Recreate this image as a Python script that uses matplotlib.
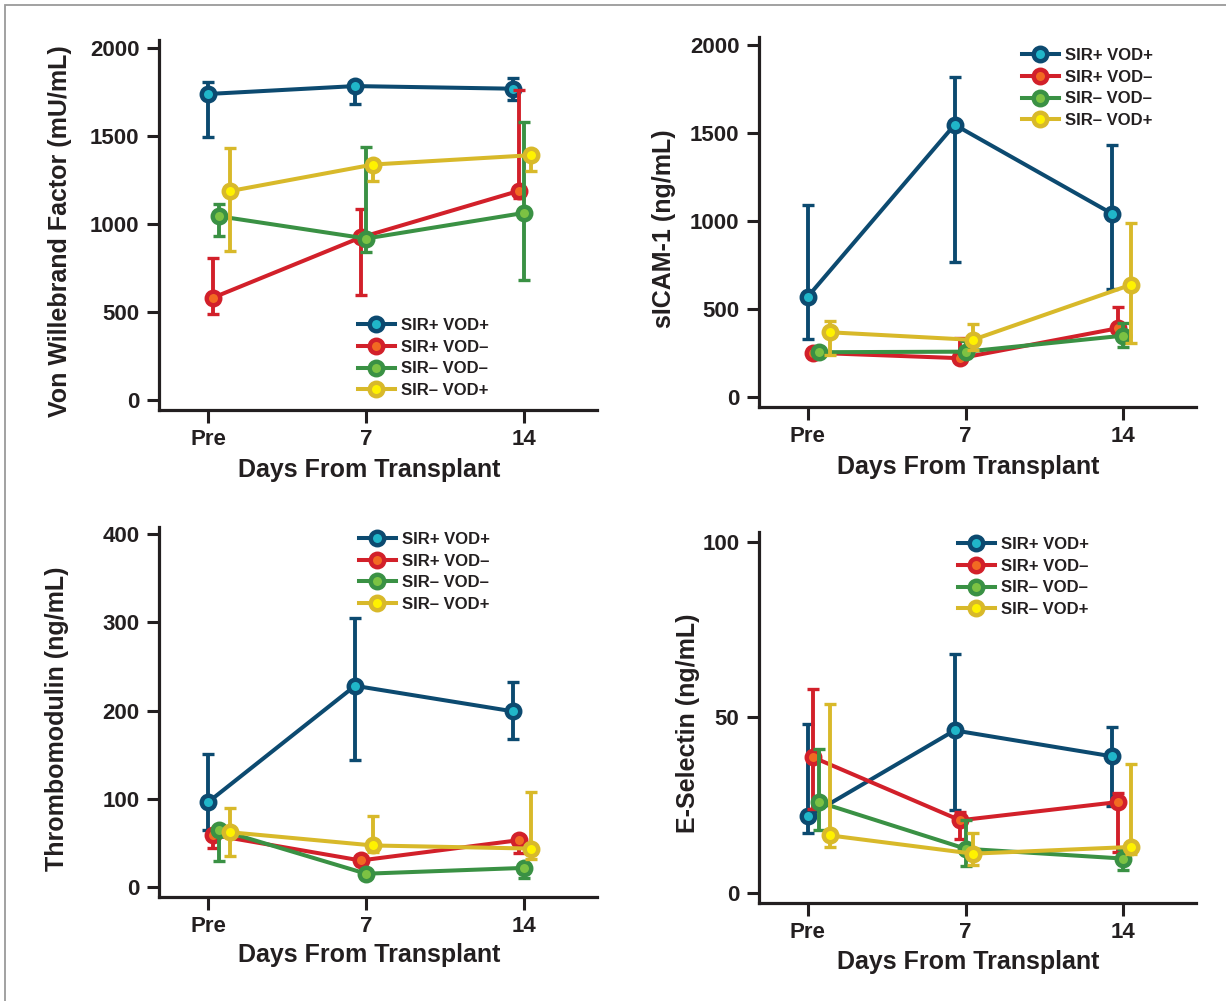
import numpy as np
import matplotlib
matplotlib.use('Agg')
import matplotlib.pyplot as plt
from matplotlib import font_manager
from matplotlib.patches import Rectangle

installed = {f.name for f in font_manager.fontManager.ttflist}
FONT = 'Liberation Sans' if 'Liberation Sans' in installed else 'DejaVu Sans'
plt.rcParams['font.family'] = [FONT, 'DejaVu Sans']

# Data: mean, lower and upper ends of error bars
days = ['Pre', '7', '14']
groups = ['SIR+ VOD+', 'SIR+ VOD\u2013', 'SIR\u2013 VOD\u2013', 'SIR\u2013 VOD+']

# Von Willebrand Factor (mU/mL)
vwf_mean = [[1740, 1785, 1770], [581, 924, 1189], [1045, 918, 1064], [1188, 1339, 1392]]
vwf_lo = [[1496, 1682, 1708], [487, 597, 1150], [933, 839, 682], [847, 1244, 1303]]
vwf_hi = [[1809, 1800, 1833], [808, 1085, 1761], [1114, 1440, 1581], [1434, 1360, 1410]]

# sICAM-1 (ng/mL)
icam_mean = [[572, 1547, 1041], [253, 222, 392], [256, 259, 350], [369, 326, 638]]
icam_lo = [[330, 767, 614], [240, 210, 370], [245, 240, 288], [240, 270, 307]]
icam_hi = [[1089, 1816, 1432], [265, 337, 515], [268, 322, 420], [435, 416, 992]]

# Thrombomodulin (ng/mL)
tm_mean = [[96, 228, 199], [59, 30, 53], [65, 15, 21.6], [62, 47, 43.5]]
tm_lo = [[64, 144, 168], [44, 25, 39], [29, 12, 10], [35, 40, 32]]
tm_hi = [[151, 305, 232], [62, 35, 58], [68, 18, 24], [90, 80, 108]]

# E-Selectin (ng/mL)
es_mean = [[21.8, 46.3, 38.9], [38.7, 20.7, 25.9], [25.9, 12.6, 9.8], [16.4, 11.2, 13.1]]
es_lo = [[17.2, 23.7, 24.7], [24, 15.5, 11.7], [17.9, 7.7, 6.6], [13.1, 7.9, 11]]
es_hi = [[48, 68, 47.3], [58, 23, 28.5], [41, 20.7, 12.6], [53.8, 17.2, 36.8]]

# styling
line_colors = ['#0c4a70', '#d2202a', '#3a9144', '#d8b92a']
face_colors = ['#20b6c9', '#f26a22', '#7cc243', '#fff200']
# small horizontal dodge per group, at Pre and at 7/14
dodge = [[0.0, -0.07, -0.07], [0.03, -0.035, -0.035], [0.068, 0.0, 0.0], [0.14, 0.045, 0.045]]

W, H = 1226, 1001
fig = plt.figure(figsize=(W / 100, H / 100), dpi=100)

# gray frame (left and top edges visible)
fig.patches.append(Rectangle((5 / W, -0.1), 1.2, 1.1 - 5 / H, transform=fig.transFigure,
                             fill=False, edgecolor='#9a9a9a', lw=1.3))


def px_axes(left, right, top, bottom):
    return [left / W, 1 - bottom / H, (right - left) / W, (bottom - top) / H]


panels = [
    dict(rect=px_axes(159, 597, 40, 410), mean=vwf_mean, lo=vwf_lo, hi=vwf_hi,
         ylim=(-57, 2047), yticks=[0, 500, 1000, 1500, 2000],
         ylabel='Von Willebrand Factor (mU/mL)', ylab=(-0.2255, 0.484), xlab=(0.48, -0.162),
         leg=(358, 318)),
    dict(rect=px_axes(759, 1196, 37, 407), mean=icam_mean, lo=icam_lo, hi=icam_hi,
         ylim=(-55, 2045), yticks=[0, 500, 1000, 1500, 2000],
         ylabel='sICAM-1 (ng/mL)', ylab=(-0.217, 0.481), xlab=(0.478, -0.162),
         leg=(1022, 48)),
    dict(rect=px_axes(159, 597, 527, 897), mean=tm_mean, lo=tm_lo, hi=tm_hi,
         ylim=(-11.4, 408), yticks=[0, 100, 200, 300, 400],
         ylabel='Thrombomodulin (ng/mL)', ylab=(-0.232, 0.481), xlab=(0.48, -0.157),
         leg=(359, 532)),
    dict(rect=px_axes(759, 1196, 532, 903), mean=es_mean, lo=es_lo, hi=es_hi,
         ylim=(-2.85, 102.8), yticks=[0, 50, 100],
         ylabel='E-Selectin (ng/mL)', ylab=(-0.162, 0.485), xlab=(0.478, -0.159),
         leg=(958, 537)),
]

x = np.arange(len(days))
for p in panels:
    ax = fig.add_axes(p['rect'])
    handles = []
    for i, g in enumerate(groups):
        xs = x + np.array(dodge[i])
        m = np.array(p['mean'][i])
        yerr = [m - np.array(p['lo'][i]), np.array(p['hi'][i]) - m]
        ax.errorbar(xs, m, yerr=yerr, fmt='none', ecolor=line_colors[i],
                    elinewidth=2.8, capsize=4, capthick=2.4, zorder=2 + i)
        h, = ax.plot(xs, m, color=line_colors[i], lw=2.9, marker='o', ms=9.7,
                     mfc=face_colors[i], mec=line_colors[i], mew=3.2, zorder=3 + i,
                     label=g, clip_on=False)
        handles.append(h)

    ax.set_xlim(-0.31, 2.46)
    ax.set_ylim(*p['ylim'])
    ax.set_xticks(x)
    ax.set_xticklabels(days)
    ax.set_yticks(p['yticks'])
    for s in ['top', 'right']:
        ax.spines[s].set_visible(False)
    for s in ['left', 'bottom']:
        ax.spines[s].set_linewidth(2.3)
        ax.spines[s].set_color('#231f20')
    ax.tick_params(width=2.2, length=9, color='#231f20', labelsize=16, pad=5,
                   labelcolor='#231f20')
    for lab in ax.get_xticklabels() + ax.get_yticklabels():
        lab.set_fontweight('bold')

    ax.set_ylabel(p['ylabel'], fontsize=18, fontweight='bold', color='#231f20')
    ax.yaxis.set_label_coords(*p['ylab'])
    ax.yaxis.label.set_va('center')
    ax.set_xlabel('Days From Transplant', fontsize=18, fontweight='bold', color='#231f20')
    ax.xaxis.set_label_coords(*p['xlab'])
    ax.xaxis.label.set_va('center')

    lx, ly = p['leg']
    leg = ax.legend(handles=handles, loc='upper left',
                    bbox_to_anchor=(lx / W, 1 - ly / H), bbox_transform=fig.transFigure,
                    frameon=False, borderpad=0, borderaxespad=0, numpoints=1,
                    handlelength=2.2, handletextpad=0.36, labelspacing=0.4,
                    prop={'size': 12, 'weight': 'bold'})
    for t in leg.get_texts():
        t.set_color('#231f20')

fig.savefig('out.png', dpi=100)
